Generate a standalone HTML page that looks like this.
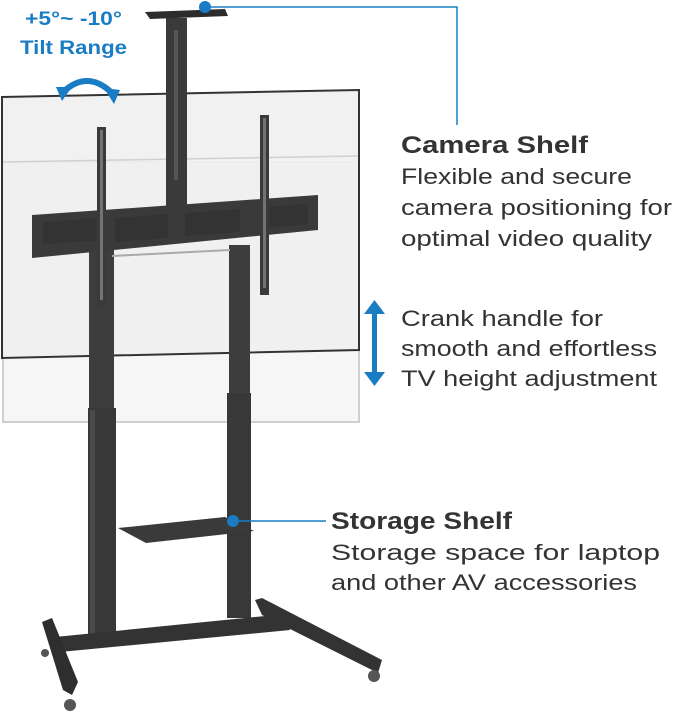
<!DOCTYPE html>
<html><head><meta charset="utf-8"><style>
html,body{margin:0;padding:0;background:#fff;}
svg{display:block;}
text{font-family:"Liberation Sans",sans-serif;}
</style></head><body>
<svg width="673" height="720" viewBox="0 0 673 720" xmlns="http://www.w3.org/2000/svg">
<!-- back faded TV -->
<rect x="3" y="162" width="356" height="260" fill="#f6f6f6" stroke="#cfcfcf" stroke-width="2"/>
<!-- front TV -->
<polygon points="2,97 359,90 359,350 2,358" fill="#efefef" fill-opacity="0.9" stroke="#333" stroke-width="2"/>
<line x1="3" y1="162" x2="358" y2="156" stroke="#d0d0d0" stroke-width="1.5"/>
<!-- camera column -->
<rect x="166" y="18" width="21" height="190" fill="#3a3a3a"/>
<rect x="174" y="30" width="4" height="150" fill="#555"/>
<polygon points="145,12 225,9 228,16 150,19" fill="#2c2c2c"/>
<!-- columns upper -->
<rect x="89" y="250" width="25" height="160" fill="#3d3d3d"/>
<rect x="229" y="245" width="21" height="150" fill="#3d3d3d"/>
<!-- columns lower -->
<rect x="88" y="408" width="28" height="230" fill="#383838"/>
<rect x="227" y="393" width="24" height="225" fill="#383838"/>
<rect x="90" y="410" width="5" height="225" fill="#4a4a4a"/>
<!-- cross bar -->
<polygon points="32,215 318,195 318,230 32,258" fill="#3a3a3a"/>
<polygon points="43,222 105,218 105,240 43,244" fill="#333"/>
<polygon points="115,218 168,214 168,238 115,242" fill="#333"/>
<polygon points="185,213 240,209 240,232 185,236" fill="#333"/>
<polygon points="268,207 308,204 308,224 268,228" fill="#333"/>
<line x1="112" y1="256" x2="230" y2="250" stroke="#aaa" stroke-width="2"/>
<!-- VESA arms -->
<rect x="97" y="127" width="9" height="180" fill="#3a3a3a"/>
<rect x="100" y="130" width="3" height="170" fill="#999" opacity="0.6"/>
<rect x="260" y="115" width="9" height="180" fill="#3a3a3a"/>
<rect x="263" y="118" width="3" height="170" fill="#999" opacity="0.6"/>
<!-- storage shelf -->
<polygon points="118,528 225,517 254,531 146,543" fill="#3a3a3a"/>
<!-- base -->
<polygon points="55,637 285,614 290,630 60,652" fill="#333"/>
<polygon points="42,622 52,618 78,682 72,695 63,690" fill="#2e2e2e"/>
<polygon points="255,600 262,598 382,660 378,673 262,615" fill="#333"/>
<circle cx="70" cy="705" r="6" fill="#555"/>
<circle cx="374" cy="676" r="6" fill="#555"/>
<circle cx="45" cy="653" r="4" fill="#555"/>
<!-- tilt arrow -->
<path d="M63,92 Q87,70 111,92" fill="none" stroke="#1a7dc4" stroke-width="6"/>
<polygon points="56,87 72,87 62,101" fill="#1a7dc4"/>
<polygon points="104,88 120,90 114,104" fill="#1a7dc4"/>
<!-- blue connectors -->
<circle cx="205" cy="7" r="6" fill="#1a7dc4"/>
<polyline points="205,7 457,7 457,125" fill="none" stroke="#1a7dc4" stroke-width="1.5"/>
<circle cx="233" cy="521" r="6" fill="#1a7dc4"/>
<line x1="233" y1="521" x2="326" y2="521" stroke="#1a7dc4" stroke-width="1.5"/>
<!-- height arrow -->
<rect x="372" y="310" width="5" height="66" fill="#1a7dc4"/>
<polygon points="364,314 374.5,300 385,314" fill="#1a7dc4"/>
<polygon points="364,372 374.5,386 385,372" fill="#1a7dc4"/>
<!-- text -->
<g fill="#1a7dc4" font-weight="bold" font-size="19">
<text x="25" y="25" textLength="97" lengthAdjust="spacingAndGlyphs">+5°~ -10°</text>
<text x="20" y="54" textLength="107" lengthAdjust="spacingAndGlyphs">Tilt Range</text>
</g>
<g fill="#333">
<text x="401" y="153" font-size="24" font-weight="bold" textLength="187" lengthAdjust="spacingAndGlyphs">Camera Shelf</text>
<text x="401" y="184" font-size="22" textLength="231" lengthAdjust="spacingAndGlyphs">Flexible and secure</text>
<text x="401" y="215" font-size="22" textLength="271" lengthAdjust="spacingAndGlyphs">camera positioning for</text>
<text x="401" y="246" font-size="22" textLength="251" lengthAdjust="spacingAndGlyphs">optimal video quality</text>
<text x="401" y="326" font-size="22" textLength="202" lengthAdjust="spacingAndGlyphs">Crank handle for</text>
<text x="401" y="356" font-size="22" textLength="256" lengthAdjust="spacingAndGlyphs">smooth and effortless</text>
<text x="401" y="386" font-size="22" textLength="256" lengthAdjust="spacingAndGlyphs">TV height adjustment</text>
<text x="331" y="529" font-size="24" font-weight="bold" textLength="181" lengthAdjust="spacingAndGlyphs">Storage Shelf</text>
<text x="331" y="560" font-size="22" textLength="329" lengthAdjust="spacingAndGlyphs">Storage space for laptop</text>
<text x="331" y="590" font-size="22" textLength="306" lengthAdjust="spacingAndGlyphs">and other AV accessories</text>
</g>
</svg>
</body></html>
